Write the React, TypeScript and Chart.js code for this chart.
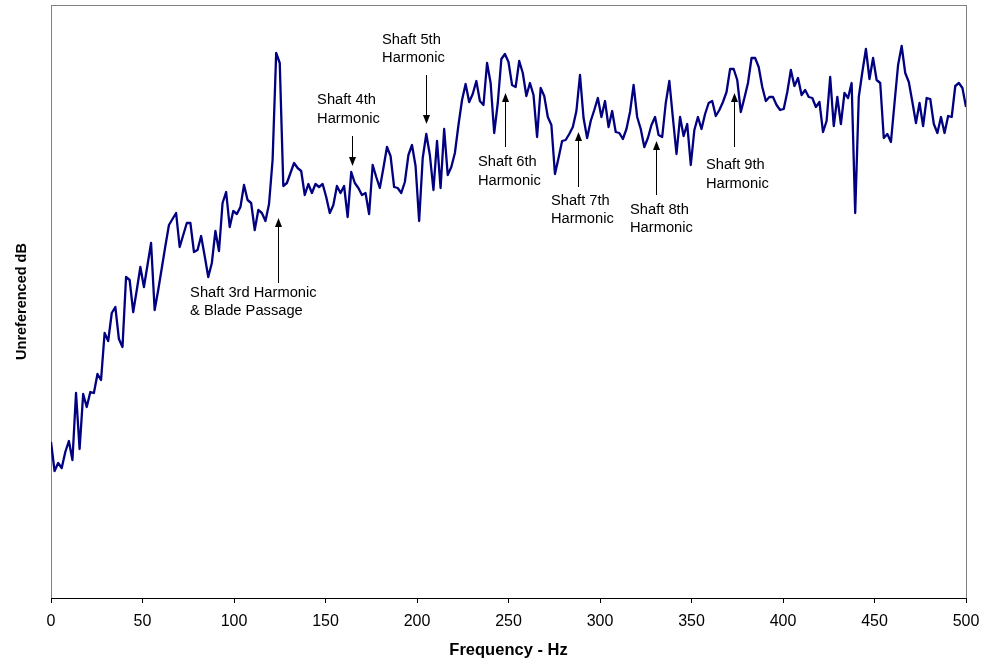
import React, { useEffect, useRef } from "react";
import { Chart, registerables } from "chart.js";

Chart.register(...registerables);

// FFT bin width (Hz) of the spectrum
const BIN_HZ = 1000 / 512;

// Spectrum level per bin (arbitrary dB scale)
const levelsDb = [
  15.6, 12.7, 13.5, 13.0, 14.6, 15.7, 13.8, 20.5, 14.9, 20.4,
  19.1, 20.6, 20.5, 22.4, 21.8, 26.5, 25.7, 28.5, 29.1, 25.9,
  25.1, 32.1, 31.8, 28.6, 30.8, 33.1, 31.1, 33.3, 35.5, 28.8,
  30.8, 33.0, 35.2, 37.3, 37.9, 38.5, 35.1, 36.3, 37.5, 37.5,
  34.6, 34.8, 36.2, 34.2, 32.1, 33.5, 36.7, 34.7, 39.5, 40.6,
  37.1, 38.7, 38.4, 39.1, 41.3, 39.8, 39.5, 36.8, 38.8, 38.5,
  37.7, 39.4, 43.8, 54.5, 53.5, 41.2, 41.5, 42.5, 43.5, 43.0,
  42.7, 40.3, 41.4, 40.5, 41.4, 41.1, 41.4, 40.1, 38.5, 39.3,
  41.2, 40.5, 41.2, 38.1, 42.6, 41.5, 41.0, 40.3, 40.5, 38.4,
  43.3, 42.1, 41.0, 43.0, 45.1, 44.2, 41.1, 41.0, 40.5, 41.6,
  44.3, 45.3, 43.2, 37.7, 44.0, 46.4, 44.3, 40.8, 45.7, 41.0,
  46.9, 42.3, 43.1, 44.5, 47.3, 49.8, 51.4, 49.6, 50.4, 51.7,
  49.7, 49.3, 53.5, 51.5, 46.5, 49.5, 53.9, 54.4, 53.6, 51.3,
  51.1, 53.7, 52.5, 50.2, 51.5, 50.3, 46.1, 51.0, 50.2, 48.1,
  47.3, 42.4, 44.0, 45.7, 45.8, 46.4, 47.1, 48.7, 52.3, 48.0,
  46.0, 47.7, 48.8, 50.0, 48.1, 49.7, 47.1, 48.7, 46.6, 46.5,
  45.9, 46.9, 48.6, 51.3, 48.1, 46.9, 45.1, 46.0, 47.3, 48.1,
  46.3, 46.1, 49.5, 51.7, 48.0, 44.4, 48.1, 46.2, 47.4, 43.3,
  46.8, 48.1, 46.9, 48.4, 49.5, 49.7, 48.2, 48.8, 49.6, 50.6,
  52.9, 52.9, 51.8, 48.6, 50.0, 51.5, 54.0, 54.0, 53.1, 51.1,
  49.7, 50.1, 50.1, 49.3, 48.8, 48.9, 50.6, 52.8, 51.2, 52.0,
  50.3, 50.8, 50.1, 50.0, 49.1, 49.6, 46.6, 47.7, 52.1, 47.2,
  50.1, 47.4, 50.5, 50.0, 51.5, 38.5, 50.1, 52.6, 54.9, 51.9,
  54.0, 51.8, 51.5, 46.0, 46.4, 45.6, 49.5, 53.3, 55.2, 52.5,
  51.6, 49.6, 47.5, 49.5, 47.2, 50.0, 49.9, 47.4, 46.5, 48.1,
  46.5, 48.2, 48.1, 51.2, 51.5, 51.0, 49.1,
];

const X_MIN = 0;
const X_MAX = 500;
const X_STEP = 50;
const Y_MIN = 0;
const Y_MAX = 59.3;

const xTitle = "Frequency - Hz";
const yTitle = "Unreferenced dB";

// Callouts: text lines (with their dB heights), arrow x and arrow tail/tip in dB
const harmonicLabels = [
  { lines: ["Shaft 3rd Harmonic", "& Blade Passage"], textHz: 76.0, lineDb: [30.5, 28.7], arrowHz: 123.9, tailDb: 31.5, tipDb: 38.0 },
  { lines: ["Shaft 4th", "Harmonic"], textHz: 145.4, lineDb: [49.8, 47.9], arrowHz: 164.5, tailDb: 46.2, tipDb: 43.2 },
  { lines: ["Shaft 5th", "Harmonic"], textHz: 180.9, lineDb: [55.8, 54.0], arrowHz: 204.8, tailDb: 52.3, tipDb: 47.4 },
  { lines: ["Shaft 6th", "Harmonic"], textHz: 233.3, lineDb: [43.6, 41.7], arrowHz: 248.1, tailDb: 45.1, tipDb: 50.5 },
  { lines: ["Shaft 7th", "Harmonic"], textHz: 273.2, lineDb: [39.7, 37.9], arrowHz: 288.1, tailDb: 41.1, tipDb: 46.6 },
  { lines: ["Shaft 8th", "Harmonic"], textHz: 316.4, lineDb: [38.8, 37.0], arrowHz: 330.6, tailDb: 40.3, tipDb: 45.7 },
  { lines: ["Shaft 9th", "Harmonic"], textHz: 357.9, lineDb: [43.3, 41.4], arrowHz: 373.0, tailDb: 45.1, tipDb: 50.5 },
];

const FONT = "'Liberation Sans', Arial, Helvetica, sans-serif";

const framePlugin = {
  id: "plotFrame",
  beforeDraw(chart: any) {
    const { ctx, chartArea } = chart;
    ctx.save();
    ctx.strokeStyle = "#808080";
    ctx.lineWidth = 1;
    ctx.strokeRect(
      Math.round(chartArea.left) + 0.5,
      Math.round(chartArea.top) + 0.5,
      Math.round(chartArea.right - chartArea.left),
      Math.round(chartArea.bottom - chartArea.top)
    );
    ctx.restore();
  },
};

const calloutPlugin = {
  id: "harmonicCallouts",
  afterDatasetsDraw(chart: any) {
    const { ctx } = chart;
    const xs = chart.scales.x;
    const ys = chart.scales.y;
    ctx.save();
    ctx.font = `14.7px ${FONT}`;
    ctx.fillStyle = "#000";
    ctx.textAlign = "left";
    ctx.textBaseline = "middle";
    harmonicLabels.forEach((a) => {
      const tx = xs.getPixelForValue(a.textHz);
      a.lines.forEach((line, k) => {
        ctx.fillText(line, tx, ys.getPixelForValue(a.lineDb[k]));
      });
      const ax = Math.round(xs.getPixelForValue(a.arrowHz)) + 0.5;
      const tail = ys.getPixelForValue(a.tailDb);
      const tip = ys.getPixelForValue(a.tipDb);
      const dir = tip < tail ? -1 : 1;
      const headLen = 9;
      const headHalf = 3.5;
      ctx.strokeStyle = "#000";
      ctx.lineWidth = 1;
      ctx.beginPath();
      ctx.moveTo(ax, tail);
      ctx.lineTo(ax, tip - dir * headLen);
      ctx.stroke();
      ctx.beginPath();
      ctx.moveTo(ax, tip);
      ctx.lineTo(ax - headHalf, tip - dir * headLen);
      ctx.lineTo(ax + headHalf, tip - dir * headLen);
      ctx.closePath();
      ctx.fill();
    });
    ctx.restore();
  },
};

export default function App() {
  const canvasRef = useRef<HTMLCanvasElement | null>(null);

  useEffect(() => {
    document.body.style.margin = "0";
    const canvas = canvasRef.current;
    if (!canvas) return;
    const points = levelsDb.map((v, i) => ({ x: i * BIN_HZ, y: v }));
    const chart = new Chart(canvas, {
      type: "line",
      data: {
        datasets: [
          {
            data: points,
            borderColor: "#000080",
            borderWidth: 2.3,
            borderJoinStyle: "round",
            pointRadius: 0,
            tension: 0,
            fill: false,
          },
        ],
      },
      options: {
        responsive: false,
        animation: false,
        devicePixelRatio: 1,
        layout: { padding: { left: 0, top: 5, right: 18, bottom: 0 } },
        plugins: {
          legend: { display: false },
          tooltip: { enabled: false },
        },
        scales: {
          x: {
            type: "linear",
            min: X_MIN,
            max: X_MAX,
            afterFit: (s: any) => {
              s.height = 64;
              s.paddingLeft = 0;
              s.paddingRight = 0;
            },
            ticks: {
              stepSize: X_STEP,
              autoSkip: false,
              maxRotation: 0,
              color: "#000",
              padding: 9.4,
              font: { family: FONT, size: 16 },
            },
            grid: {
              drawOnChartArea: false,
              drawTicks: true,
              tickLength: 5,
              color: "#000",
            },
            border: { display: true, color: "#000", width: 1 },
            title: {
              display: true,
              text: xTitle,
              color: "#000",
              font: { family: FONT, size: 16.5, weight: "bold" },
              padding: { top: 0, bottom: 2.1 },
            },
          },
          y: {
            type: "linear",
            min: Y_MIN,
            max: Y_MAX,
            afterFit: (s: any) => {
              s.width = 51;
              s.paddingTop = 0;
              s.paddingBottom = 0;
            },
            ticks: { display: false },
            grid: { display: false, drawTicks: false },
            border: { display: false },
            title: {
              display: true,
              text: yTitle,
              color: "#000",
              font: { family: FONT, size: 14.5, weight: "bold" },
              padding: { top: 13.5, bottom: 0 },
            },
          },
        },
      },
      plugins: [framePlugin, calloutPlugin],
    });
    return () => chart.destroy();
  }, []);

  return (
    <div style={{ width: 984, height: 662, position: "relative" }}>
      <canvas ref={canvasRef} width={984} height={662} style={{ display: "block" }} />
    </div>
  );
}
